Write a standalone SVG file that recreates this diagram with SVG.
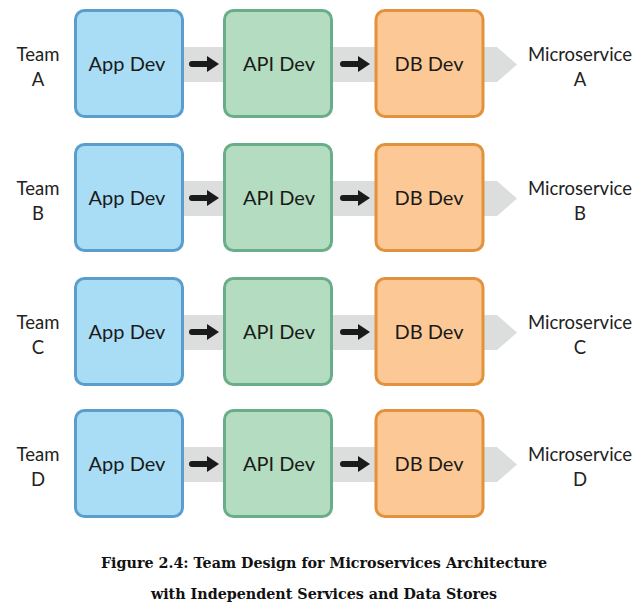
<svg xmlns="http://www.w3.org/2000/svg" width="641" height="608" viewBox="0 0 641 608">
<style>
.bg{fill:#ffffff}
.band{fill:#dcdddd}
.shaft{stroke:#1a1a1a;stroke-width:6;stroke-linecap:round;fill:none}
.box{stroke-width:3}
.app{fill:#a9ddf6;stroke:#5b9dcb}
.api{fill:#b3dcc0;stroke:#6aad89}
.db{fill:#fcc996;stroke:#e2913d}
.lbl{font-family:Lato,"Open Sans",sans-serif;font-size:20px;fill:#1a1a1a;text-anchor:middle}
.side{font-family:Lato,"Open Sans",sans-serif;font-size:18.5px;fill:#222;text-anchor:middle}
.cap{font-family:"DejaVu Serif","Liberation Serif",serif;font-weight:bold;font-size:14.3px;fill:#111;text-anchor:middle}
</style>
<defs>
<marker id="head" markerUnits="userSpaceOnUse" markerWidth="13" markerHeight="17" refX="1" refY="8" orient="auto" viewBox="0 0 13 17">
<path d="M0,0 L12,8 L0,16 Z" fill="#1a1a1a"/>
</marker>
</defs>
<rect class="bg" x="0" y="0" width="641" height="608"/>
<g id="connectors">
<path class="band" d="M150,47 H497 L517,64.5 L497,82 H150 Z"/>
<path class="band" transform="translate(0,134)" d="M150,47 H497 L517,64.5 L497,82 H150 Z"/>
<path class="band" transform="translate(0,268)" d="M150,47 H497 L517,64.5 L497,82 H150 Z"/>
<path class="band" transform="translate(0,400)" d="M150,47 H497 L517,64.5 L497,82 H150 Z"/>
<line class="shaft" x1="192" y1="64" x2="208" y2="64" marker-end="url(#head)"/>
<line class="shaft" x1="343" y1="64" x2="359" y2="64" marker-end="url(#head)"/>
<line class="shaft" x1="192" y1="198" x2="208" y2="198" marker-end="url(#head)"/>
<line class="shaft" x1="343" y1="198" x2="359" y2="198" marker-end="url(#head)"/>
<line class="shaft" x1="192" y1="332" x2="208" y2="332" marker-end="url(#head)"/>
<line class="shaft" x1="343" y1="332" x2="359" y2="332" marker-end="url(#head)"/>
<line class="shaft" x1="192" y1="464" x2="208" y2="464" marker-end="url(#head)"/>
<line class="shaft" x1="343" y1="464" x2="359" y2="464" marker-end="url(#head)"/>
</g>
<g id="row-a">
<g id="team-a"><text class="side" x="38" y="61">Team</text><text class="side" x="38" y="86">A</text></g>
<g id="app-a"><rect class="box app" x="75.5" y="10.5" width="107" height="106" rx="9"/><text class="lbl" x="127" y="71">App Dev</text></g>
<g id="api-a"><rect class="box api" x="224.5" y="10.5" width="107" height="106" rx="9"/><text class="lbl" x="279" y="71">API Dev</text></g>
<g id="db-a"><rect class="box db" x="376" y="10.5" width="107" height="106" rx="9"/><text class="lbl" x="429" y="71">DB Dev</text></g>
<g id="ms-a"><text class="side" x="580" y="61">Microservice</text><text class="side" x="580" y="86">A</text></g>
</g>
<g id="row-b" transform="translate(0,134)">
<g id="team-b"><text class="side" x="38" y="61">Team</text><text class="side" x="38" y="86">B</text></g>
<g id="app-b"><rect class="box app" x="75.5" y="10.5" width="107" height="106" rx="9"/><text class="lbl" x="127" y="71">App Dev</text></g>
<g id="api-b"><rect class="box api" x="224.5" y="10.5" width="107" height="106" rx="9"/><text class="lbl" x="279" y="71">API Dev</text></g>
<g id="db-b"><rect class="box db" x="376" y="10.5" width="107" height="106" rx="9"/><text class="lbl" x="429" y="71">DB Dev</text></g>
<g id="ms-b"><text class="side" x="580" y="61">Microservice</text><text class="side" x="580" y="86">B</text></g>
</g>
<g id="row-c" transform="translate(0,268)">
<g id="team-c"><text class="side" x="38" y="61">Team</text><text class="side" x="38" y="86">C</text></g>
<g id="app-c"><rect class="box app" x="75.5" y="10.5" width="107" height="106" rx="9"/><text class="lbl" x="127" y="71">App Dev</text></g>
<g id="api-c"><rect class="box api" x="224.5" y="10.5" width="107" height="106" rx="9"/><text class="lbl" x="279" y="71">API Dev</text></g>
<g id="db-c"><rect class="box db" x="376" y="10.5" width="107" height="106" rx="9"/><text class="lbl" x="429" y="71">DB Dev</text></g>
<g id="ms-c"><text class="side" x="580" y="61">Microservice</text><text class="side" x="580" y="86">C</text></g>
</g>
<g id="row-d" transform="translate(0,400)">
<g id="team-d"><text class="side" x="38" y="61">Team</text><text class="side" x="38" y="86">D</text></g>
<g id="app-d"><rect class="box app" x="75.5" y="10.5" width="107" height="106" rx="9"/><text class="lbl" x="127" y="71">App Dev</text></g>
<g id="api-d"><rect class="box api" x="224.5" y="10.5" width="107" height="106" rx="9"/><text class="lbl" x="279" y="71">API Dev</text></g>
<g id="db-d"><rect class="box db" x="376" y="10.5" width="107" height="106" rx="9"/><text class="lbl" x="429" y="71">DB Dev</text></g>
<g id="ms-d"><text class="side" x="580" y="61">Microservice</text><text class="side" x="580" y="86">D</text></g>
</g>
<g id="caption">
<text class="cap" x="324" y="568">Figure 2.4: Team Design for Microservices Architecture</text>
<text class="cap" x="324" y="599">with Independent Services and Data Stores</text>
</g>
</svg>
